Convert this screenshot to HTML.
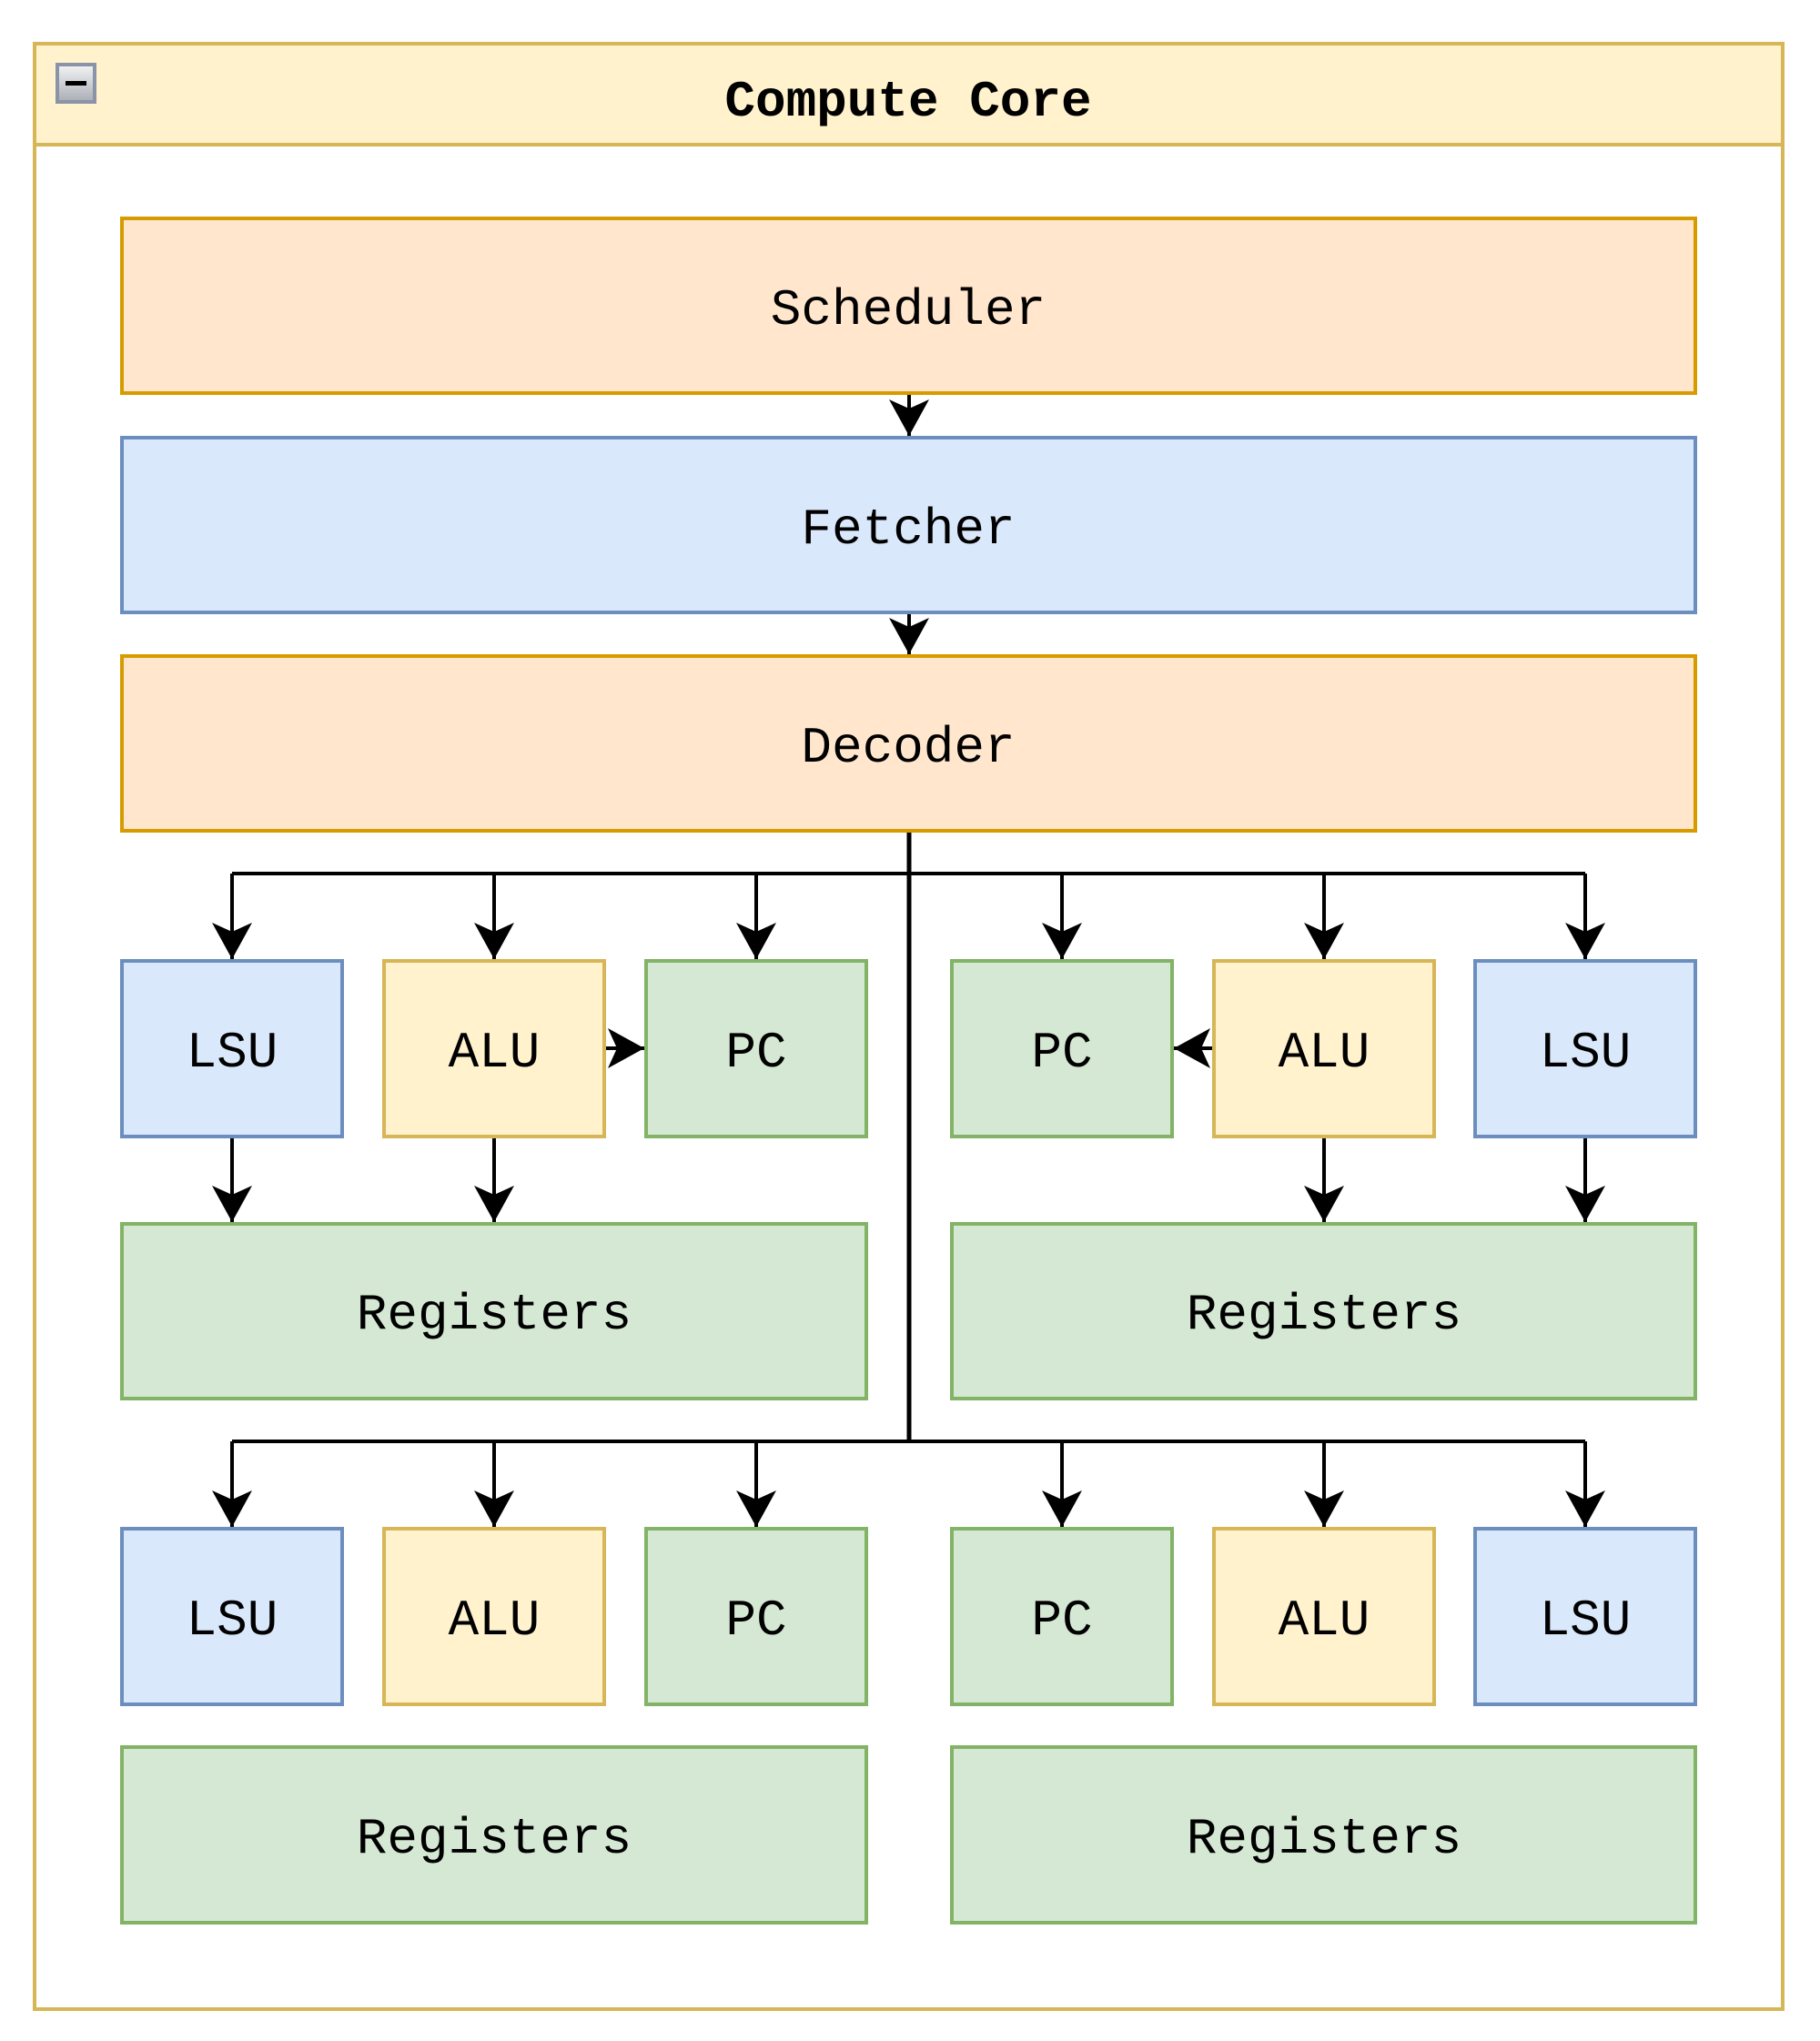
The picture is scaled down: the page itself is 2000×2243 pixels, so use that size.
<!DOCTYPE html>
<html><head><meta charset="utf-8"><style>
html,body{margin:0;padding:0;background:#fff;}
svg{display:block;}
text{font-family:"Liberation Mono","DejaVu Sans Mono",monospace;font-size:56px;fill:#000;text-anchor:middle;dominant-baseline:central;}
</style></head><body>
<svg width="2000" height="2243" viewBox="0 0 2000 2243" xmlns="http://www.w3.org/2000/svg">
<defs>
<marker id="a" markerUnits="userSpaceOnUse" markerWidth="50" markerHeight="50" refX="40" refY="22" orient="auto">
<path d="M0,0 L40,22 L0,44 L10,22 Z" fill="#000"/>
</marker>
<linearGradient id="g" x1="0" y1="0" x2="0" y2="1"><stop offset="0" stop-color="#f4f4f4"/><stop offset="1" stop-color="#a9adb5"/></linearGradient>
</defs>
<rect x="38" y="48" width="1921" height="2160" fill="#fff" stroke="#d6b656" stroke-width="4"/>
<rect x="38" y="48" width="1921" height="111" fill="#fff2cc" stroke="#d6b656" stroke-width="4"/>
<rect x="63" y="71" width="41" height="41" fill="url(#g)" stroke="#8a94a8" stroke-width="4"/>
<rect x="72" y="89" width="23" height="5" fill="#000"/>
<text x="998" y="112" style="font-weight:bold">Compute Core</text>

<rect x="134" y="240" width="1729" height="192" fill="#ffe6cc" stroke="#d79b00" stroke-width="4"/>
<text x="998" y="341">Scheduler</text>
<rect x="134" y="481" width="1729" height="192" fill="#dae8fc" stroke="#6c8ebf" stroke-width="4"/>
<text x="998" y="582">Fetcher</text>
<rect x="134" y="721" width="1729" height="192" fill="#ffe6cc" stroke="#d79b00" stroke-width="4"/>
<text x="998" y="822">Decoder</text>

<g stroke-width="4">
<rect x="134" y="1056" width="242" height="193" fill="#dae8fc" stroke="#6c8ebf"/>
<rect x="422" y="1056" width="242" height="193" fill="#fff2cc" stroke="#d6b656"/>
<rect x="710" y="1056" width="242" height="193" fill="#d5e8d4" stroke="#82b366"/>
<rect x="1046" y="1056" width="242" height="193" fill="#d5e8d4" stroke="#82b366"/>
<rect x="1334" y="1056" width="242" height="193" fill="#fff2cc" stroke="#d6b656"/>
<rect x="1621" y="1056" width="242" height="193" fill="#dae8fc" stroke="#6c8ebf"/>
<rect x="134" y="1345" width="818" height="192" fill="#d5e8d4" stroke="#82b366"/>
<rect x="1046" y="1345" width="817" height="192" fill="#d5e8d4" stroke="#82b366"/>
<rect x="134" y="1680" width="242" height="193" fill="#dae8fc" stroke="#6c8ebf"/>
<rect x="422" y="1680" width="242" height="193" fill="#fff2cc" stroke="#d6b656"/>
<rect x="710" y="1680" width="242" height="193" fill="#d5e8d4" stroke="#82b366"/>
<rect x="1046" y="1680" width="242" height="193" fill="#d5e8d4" stroke="#82b366"/>
<rect x="1334" y="1680" width="242" height="193" fill="#fff2cc" stroke="#d6b656"/>
<rect x="1621" y="1680" width="242" height="193" fill="#dae8fc" stroke="#6c8ebf"/>
<rect x="134" y="1920" width="818" height="193" fill="#d5e8d4" stroke="#82b366"/>
<rect x="1046" y="1920" width="817" height="193" fill="#d5e8d4" stroke="#82b366"/>
</g>
<text x="255" y="1157">LSU</text><text x="543" y="1157">ALU</text><text x="831" y="1157">PC</text>
<text x="1167" y="1157">PC</text><text x="1455" y="1157">ALU</text><text x="1742" y="1157">LSU</text>
<text x="543" y="1445">Registers</text><text x="1455" y="1445">Registers</text>
<text x="255" y="1781">LSU</text><text x="543" y="1781">ALU</text><text x="831" y="1781">PC</text>
<text x="1167" y="1781">PC</text><text x="1455" y="1781">ALU</text><text x="1742" y="1781">LSU</text>
<text x="543" y="2021">Registers</text><text x="1455" y="2021">Registers</text>

<g stroke="#000" stroke-width="4" fill="none">
<line x1="999" y1="434" x2="999" y2="479" marker-end="url(#a)"/>
<line x1="999" y1="675" x2="999" y2="719" marker-end="url(#a)"/>
<line x1="999" y1="915" x2="999" y2="1586" stroke-width="5"/>
<line x1="255" y1="960" x2="1742" y2="960"/>
<line x1="255" y1="1584" x2="1742" y2="1584"/>
<g marker-end="url(#a)">
<line x1="255" y1="960" x2="255" y2="1054"/><line x1="543" y1="960" x2="543" y2="1054"/><line x1="831" y1="960" x2="831" y2="1054"/>
<line x1="1167" y1="960" x2="1167" y2="1054"/><line x1="1455" y1="960" x2="1455" y2="1054"/><line x1="1742" y1="960" x2="1742" y2="1054"/>
<line x1="255" y1="1584" x2="255" y2="1678"/><line x1="543" y1="1584" x2="543" y2="1678"/><line x1="831" y1="1584" x2="831" y2="1678"/>
<line x1="1167" y1="1584" x2="1167" y2="1678"/><line x1="1455" y1="1584" x2="1455" y2="1678"/><line x1="1742" y1="1584" x2="1742" y2="1678"/>
<line x1="255" y1="1251" x2="255" y2="1343"/><line x1="543" y1="1251" x2="543" y2="1343"/>
<line x1="1455" y1="1251" x2="1455" y2="1343"/><line x1="1742" y1="1251" x2="1742" y2="1343"/>
<line x1="666" y1="1152" x2="708" y2="1152"/>
<line x1="1332" y1="1152" x2="1290" y2="1152"/>
</g>
</g>
</svg>
</body></html>
